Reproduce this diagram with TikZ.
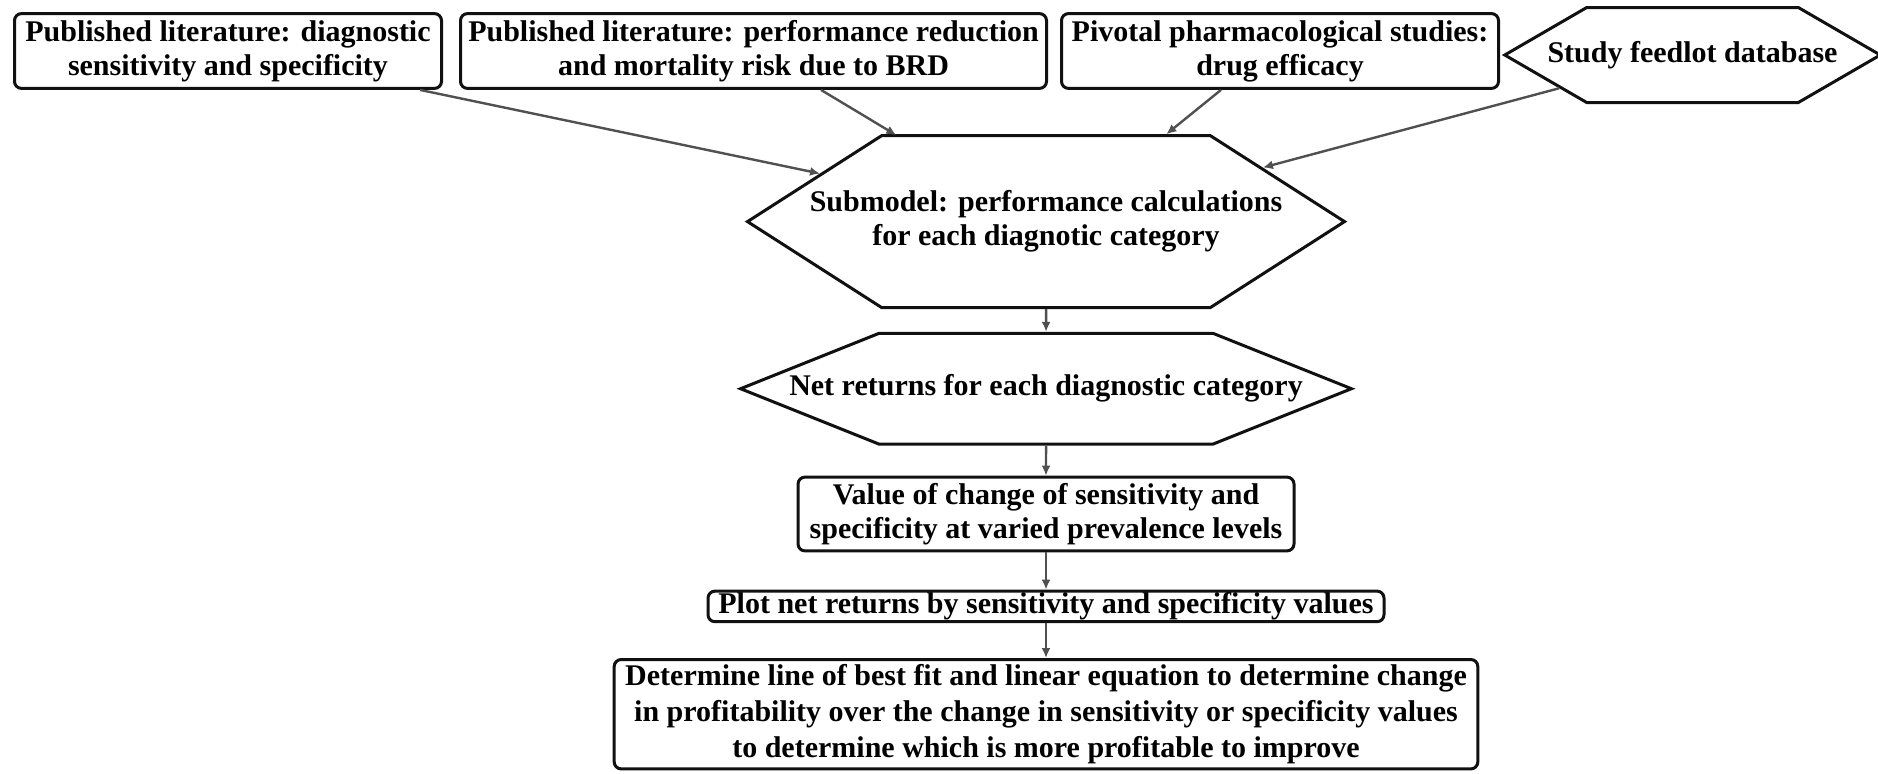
\documentclass[tikz,border=0pt]{standalone}
\usepackage{fontspec}
\setmainfont{Liberation Serif}
\usetikzlibrary{arrows.meta,positioning,shapes.symbols}
\definecolor{flowline}{HTML}{505050}
\definecolor{flowedge}{HTML}{111111}
\tikzset{
  box/.style={rounded corners=3.5pt,draw=flowedge,line width=1.5pt,fill=white,align=center,inner xsep=2pt,inner ysep=1pt,font=\bfseries\fontsize{15}{17}\selectfont},
  hexbox/.style={box,rounded corners=0pt,shape=signal,signal to=east and west},
  ar/.style={-{Latex[length=5pt,width=4.5pt]},draw=flowline,line width=1.2pt},
}

\begin{document}
\begin{tikzpicture}[node distance=14pt]
    \useasboundingbox (0,0) rectangle (939pt,-386.5pt);
    % sources
    \node[box,minimum width=213.5pt,minimum height=37.4pt] (lit1) at (114pt,-25.5pt){Published literature: diagnostic\\sensitivity and specificity};
    \node[box,minimum width=293pt,minimum height=37.4pt] (lit2) at (376.75pt,-25.5pt){Published literature: performance reduction\\and mortality risk due to BRD};
    \node[box,minimum width=218.5pt,minimum height=37.4pt] (piv) at (640pt,-25.5pt){Pivotal pharmacological studies:\\drug efficacy};
    \node[hexbox,signal pointer angle=60.2,inner xsep=-19.6pt,minimum height=47.5pt] (feed) at (846.25pt,-27.5pt){Study feedlot database};
    % model chain
    \node[hexbox,signal pointer angle=65.3,inner xsep=-35.9pt,minimum height=85.9pt] (sub) at (523pt,-110.8pt){Submodel: performance calculations\\for each diagnotic category};
    \node[hexbox,signal pointer angle=43.6,inner xsep=-44.9pt,minimum height=55.4pt,below=11.4pt of sub] (net){Net returns for each diagnostic category};
    \node[box,minimum width=248pt,minimum height=36.9pt,below=15pt of net] (val){Value of change of sensitivity and\\specificity at varied prevalence levels};
    \node[box,minimum width=338pt,minimum height=15.3pt,inner ysep=0.5pt,below=18.6pt of val] (plot){Plot net returns by sensitivity and specificity values};
    \node[box,minimum width=431.8pt,minimum height=54.7pt,below=17.4pt of plot,font=\bfseries\fontsize{15}{18}\selectfont] (fit){Determine line of best fit and linear equation to determine change\\in profitability over the change in sensitivity or specificity values\\to determine which is more profitable to improve};
    \draw[ar]([xshift=96pt]lit1.south)--(sub.168);
    \draw[ar]([xshift=33.75pt]lit2.south)--(sub.150);
    \draw[ar]([xshift=-29.5pt]piv.south)--(sub.36.4);
    \draw[ar](feed.194)--(sub.14.6);
    \draw[ar](sub)--(net);\draw[ar](net)--(val);\draw[ar](val)--(plot);\draw[ar](plot)--(fit);
\end{tikzpicture}
\end{document}
